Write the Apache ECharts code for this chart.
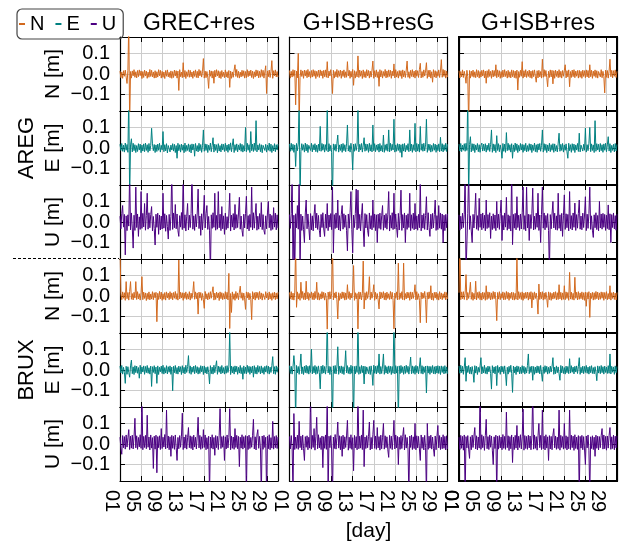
<!DOCTYPE html>
<html>
<head>
<meta charset="utf-8">
<script src="https://cdn.jsdelivr.net/npm/echarts@6/dist/echarts.min.js"></script>
<style>
  html, body { margin: 0; padding: 0; background: #fff; }
  #chart { width: 619px; height: 544px; }
</style>
</head>
<body>
<div id="chart"></div>
<script>
// panel titles, stations, components
const columns = ['GREC+res', 'G+ISB+resG', 'G+ISB+res']
const stations = ['AREG', 'BRUX']
const components = ['N', 'E', 'U']
const compColors = ['#d2691e', '#008080', '#4b0082']

// x axis: day of month, one epoch every 4 h
const dayMin = 1
const dayMax = 31
const dayTicks = [1, 5, 9, 13, 17, 21, 25, 29]
const days = Array.from({ length: 181 }, (_, i) => 1 + i / 6)

// residuals [mm]
const aregGrecN = [14,-18,9,-21,16,-11,19,-15,-46,17,250,-250,12,-20,15,-9,21,-16,11,-19,
  17,-13,20,-8,15,-22,12,-17,19,-10,14,-21,9,-16,22,-12,18,-14,10,-20,
  16,-19,11,-15,21,-9,18,-20,13,-16,10,-22,17,-11,20,-14,8,-18,15,-21,
  12,-17,19,-10,16,-20,14,-80,21,-13,9,-18,55,-15,17,-22,11,-12,20,-16,
  18,-14,10,-21,15,-12,20,-17,13,-19,22,-9,16,-15,11,75,-20,14,-18,12,
  -16,-70,19,-11,15,-20,13,-45,18,-14,21,-10,16,-19,12,-22,17,-13,9,-18,
  20,-15,11,-19,17,-65,14,-21,10,-16,19,45,-12,22,-17,13,-20,9,-14,18,
  -11,16,-20,12,-18,21,-13,15,-9,19,-17,14,-22,11,-15,20,-10,17,-19,13,
  -16,21,-12,18,-20,10,40,-95,15,-13,19,-17,11,65,-21,16,-9,20,-14,12,
  -15]
const aregGrecE = [18,-12,22,-16,14,-20,24,-11,17,-21,250,-250,15,45,-19,23,-13,16,-22,12,
  -17,21,-10,19,-23,14,-15,20,-18,24,-12,16,-21,22,-14,11,96,20,-13,17,
  -22,15,-17,19,-11,23,-20,13,-9,80,-18,16,-14,21,-24,12,17,-19,14,-10,
  21,-15,18,-22,12,-50,23,-13,16,-20,19,-11,15,-23,24,-17,13,-12,20,-18,
  16,-24,20,-10,18,-40,22,-15,12,-19,23,-13,17,-21,11,88,-16,20,-12,18,
  -22,14,-11,24,-18,13,50,-20,19,-12,16,-23,21,-15,12,-19,20,-10,18,-17,
  23,-13,15,-21,19,-11,25,-18,14,45,-22,16,-12,20,-19,15,-10,22,-16,18,
  -20,12,-15,100,-18,23,-11,16,-22,80,-13,19,-17,24,-12,133,-19,15,-10,21,
  -18,16,-23,13,22,-12,18,-20,14,-11,24,-16,19,-22,12,-14,21,-18,16,-10,
  19]
const aregGrecU = [28,-33,41,80,-25,37,-160,30,-42,35,-20,250,-38,44,-29,-127,33,-41,170,-27,
  39,-70,25,-36,148,-31,42,-24,90,-40,31,140,-35,45,-28,36,75,-43,27,-32,
  -112,38,-26,43,-60,34,-39,29,-34,140,-30,40,-45,32,-23,-83,37,-41,26,250,
  -36,44,-28,85,-33,39,-42,-70,31,-25,46,-37,250,-30,35,-44,28,90,-39,33,
  -27,42,250,-35,30,-41,37,-24,44,160,-32,29,-65,40,-38,34,130,-29,41,80,
  -36,27,-43,-250,35,-31,45,-26,140,-40,32,-35,148,-28,38,-42,75,-33,30,-60,
  43,-37,26,-30,39,140,-44,34,-25,41,-39,85,-31,36,-27,44,120,-35,29,-41,
  -70,38,-29,42,125,-34,31,-43,37,-26,170,-38,45,-30,33,90,-40,28,-35,41,
  -24,95,-37,36,-42,-60,30,-33,44,100,-28,39,-41,32,-36,70,-25,43,-38,35,
  -30]

const aregIsbGN = [17,-20,13,-15,21,-11,18,-150,14,-19,100,-250,-16,20,-12,15,-21,19,-10,17,
  -18,22,-14,12,-20,17,-15,21,-11,16,-22,13,-12,19,-17,20,-9,15,-21,18,
  -13,20,-16,60,-19,14,-10,21,-15,-95,18,-20,12,-14,22,-17,16,-11,19,-21,
  15,-12,20,-18,11,-16,60,-10,18,-21,13,-15,22,-55,16,-20,12,-14,88,-17,
  19,-11,15,-22,20,-16,12,-18,21,-10,17,-20,14,-15,19,63,-21,16,-13,20,
  -17,11,-60,21,-14,16,-20,12,-11,22,-19,15,-16,20,-12,18,-21,14,-10,49,
  -19,21,-15,12,-20,17,-11,16,-22,20,-14,15,-17,19,63,-16,11,-21,18,-12,
  21,-15,14,-20,19,-11,16,-17,22,52,-19,12,-16,20,-10,15,55,-21,18,-14,
  19,-20,11,-40,21,-15,16,-19,12,-11,20,-17,15,70,-16,22,-12,18,-20,14,
  -15]
const aregIsbGE = [20,-16,23,-12,18,-21,15,-90,22,-13,19,250,-250,-18,21,-11,16,-20,24,-14,
  18,-22,13,20,-12,23,-19,16,-10,21,-18,14,-21,19,-13,105,-16,22,-11,18,
  -20,16,-12,190,-19,21,-15,13,-22,-250,20,-11,18,-16,23,63,-20,15,-12,19,
  -21,22,-13,16,-18,20,112,-15,12,-20,23,-11,-107,19,-16,21,-12,15,190,-19,
  18,-10,22,-20,14,50,-16,20,-12,18,-21,23,-15,16,-19,112,-13,21,-18,15,
  -11,19,-20,22,-15,12,-18,63,-21,16,-12,20,-16,88,-19,23,-13,18,-10,140,
  -20,15,-16,21,-12,19,-22,16,-45,20,-15,22,-19,13,-11,21,-18,88,-14,19,
  -21,16,-12,120,-19,22,-15,18,-20,105,-11,20,-16,23,-14,15,140,-21,19,-12,
  18,-20,13,-16,22,-11,19,-21,15,-13,20,-18,52,-15,21,-19,16,-12,23,-17,
  18]
const aregIsbGU = [36,-31,42,250,-250,33,-250,40,-28,80,-35,250,-250,38,-41,29,-37,-100,44,107,
  -33,39,-26,-87,41,-38,30,-43,35,85,-29,43,-36,32,-40,-73,37,-27,45,-34,
  -70,38,-30,90,-42,34,-25,41,-37,170,-150,36,-32,44,-28,107,-39,31,-44,37,
  80,-35,40,-26,33,-41,-140,39,-30,45,148,-36,-150,34,-27,42,160,-38,155,-31,
  37,-43,30,90,-34,-120,41,-29,36,-40,-70,44,-33,31,-38,107,-27,39,-42,35,
  -100,38,-31,43,-36,30,80,-40,34,-28,41,-35,37,148,-44,32,-30,45,-37,140,
  -33,39,-26,-75,42,-39,31,155,-41,36,-29,44,-100,33,-36,40,-27,140,-42,35,
  -31,43,-38,90,-34,30,-40,37,-28,200,-43,34,-30,41,-36,32,123,-39,45,-27,
  -70,38,-33,42,-29,36,107,-41,31,-37,80,-30,44,-35,39,-100,33,-42,37,-28,
  40]

const aregIsbN = [16,-19,12,-14,20,-17,13,-11,-45,18,-13,-250,17,-20,14,-12,19,-16,11,-18,
  21,-13,17,-20,12,-15,18,-10,20,-19,14,-45,16,-17,22,-12,13,-21,18,-14,
  17,-11,45,-18,20,-13,16,-21,12,-17,19,-14,21,-12,13,-20,18,-16,11,-19,
  20,-13,17,-18,14,-21,19,-78,12,-16,18,-11,60,-20,16,-14,21,-17,13,-12,
  19,-18,14,-21,17,-13,20,-11,-40,16,-19,18,-14,12,-20,72,-16,21,-12,17,
  -18,-62,13,-17,20,-14,18,-48,16,-21,19,-12,14,-18,21,-16,13,-20,17,-11,
  18,45,-19,16,-14,20,-62,12,-17,19,-13,21,-18,14,-11,17,-20,18,-16,13,
  -21,19,-12,16,-18,20,-14,17,-19,45,-13,18,-21,14,-11,20,-17,16,-20,12,
  18,-14,21,-18,13,-12,-92,19,-16,17,-20,14,72,-13,18,-19,16,-11,20,-17,
  13]
const aregIsbE = [19,-15,22,-18,14,-11,21,-16,23,-12,250,-250,17,55,-19,21,-13,20,-22,15,
  -10,22,-18,16,-21,12,24,-15,19,-13,21,-20,14,-11,23,-17,18,88,-21,20,
  -14,17,-22,60,-12,21,-18,15,-10,-50,22,-16,19,-21,75,-13,23,-11,16,-20,
  21,-50,15,-18,24,-12,20,-22,13,-15,22,-10,18,-21,16,-13,23,-19,12,-16,
  21,-11,19,-22,15,-12,24,-18,16,-21,20,-10,22,-16,13,88,-20,21,-12,18,
  -22,15,-14,23,-18,16,-11,21,-21,20,-15,12,-19,24,72,-16,18,-12,22,-20,
  15,-11,20,-18,-50,23,-13,16,-21,21,-12,19,-22,15,-10,22,-17,72,-19,14,
  21,-15,18,-11,97,-20,16,-13,23,100,-18,20,-12,15,-22,133,-16,21,-10,18,
  -19,22,-13,16,-21,20,-11,23,-18,15,55,-15,21,-22,13,-12,18,-19,22,-14,
  17]
const aregIsbU = [35,-40,28,-33,43,-27,38,250,-250,-250,41,250,-36,30,-44,-100,37,-29,42,140,
  -35,31,-41,115,-26,39,-38,44,-30,33,-43,107,-32,36,-27,45,-80,29,-37,40,
  -31,34,-42,100,-28,38,-36,41,107,-90,32,-39,44,-25,120,-40,35,-33,30,-44,
  250,-110,37,-30,42,-38,123,-27,33,-41,39,-34,45,170,-36,31,-43,170,-29,38,
  -90,36,-32,40,165,-39,28,-35,43,-26,140,-41,34,-100,37,170,-30,44,-38,32,
  -27,41,-42,-250,36,-33,39,100,-29,43,-37,30,-40,140,-31,35,-44,42,-70,33,
  132,-36,40,-28,37,-43,148,-32,31,-39,44,-26,92,-41,36,-30,42,107,-35,29,
  -38,43,-27,34,123,-42,38,-31,41,170,-36,30,-40,-75,35,-28,45,-37,32,-43,
  100,-29,39,-35,42,-26,37,-41,33,-32,83,-38,40,-100,36,-27,44,-34,31,-40,
  38]

const bruxGrecN = [250,12,-18,20,-11,16,-21,70,-13,17,-20,22,70,-16,12,-19,18,-10,70,-17,
  21,-14,11,-20,17,94,-18,19,-12,15,-22,13,-16,20,-19,10,-15,21,-18,16,
  -9,18,-125,13,-17,22,-14,19,-21,11,-16,17,-20,20,-10,14,-18,21,-13,15,
  -19,17,-11,22,-16,12,-20,175,-14,18,-10,16,-21,15,-12,20,-17,11,-15,21,
  -20,14,-12,18,70,-16,20,-13,15,-88,19,-10,17,-21,12,-18,-60,22,-14,11,
  -19,16,-15,21,-11,18,45,-20,14,-17,19,-9,15,-22,20,-13,16,-18,12,-15,
  21,-14,18,-19,110,-158,12,-80,20,-16,11,-21,22,-12,15,-18,19,48,-11,16,
  -21,14,-15,-65,20,-10,18,-19,13,-17,-115,21,-14,16,-20,19,-11,17,-18,22,
  -13,15,-20,11,18,-17,21,-10,14,-19,20,-15,12,-21,16,-12,19,-18,15,-14,
  18]
const bruxGrecE = [19,-14,22,-20,13,-11,-65,18,-21,16,-12,-35,20,48,-18,15,-22,21,-13,19,
  -16,12,-40,23,-19,15,-10,20,-21,17,-13,22,-16,11,-20,19,-80,16,-12,21,
  -18,14,-65,20,-22,13,-9,19,-17,23,-20,12,-15,21,-19,16,-11,20,-21,14,
  -101,18,-13,22,-18,12,-20,19,-10,16,-22,21,-15,13,-19,23,-12,17,70,-16,
  20,-21,14,-11,19,-18,22,-13,16,-20,12,-17,21,-9,18,-22,20,-15,13,-19,
  16,-12,-68,21,-18,14,-20,23,-13,17,45,-21,19,-11,16,-19,22,-15,12,-20,
  18,-16,21,-12,15,190,-22,19,-14,16,-20,20,-10,18,-21,13,-15,22,-18,12,
  -45,20,-17,14,-19,23,-12,18,-21,16,-14,19,-35,21,-18,13,-20,22,-11,17,
  -19,20,-15,12,-21,18,-10,21,-16,19,-20,14,-12,22,65,-18,16,-21,20,-11,
  15]
const bruxGrecU = [33,-22,-50,41,-18,36,-25,44,-15,30,70,-27,39,-20,43,-24,35,125,-19,40,
  -26,32,-14,45,-21,250,-28,37,-17,42,-23,140,-16,34,-29,44,-20,31,-119,38,
  -25,43,-140,36,-18,40,-27,75,-22,33,-15,46,-24,165,-19,39,-28,35,-60,42,
  -21,37,-26,44,-17,-80,32,-23,41,-16,38,150,-27,34,-20,45,-25,30,80,-18,
  40,-22,36,-29,43,-15,33,-24,39,130,-19,42,-26,35,-21,70,-17,44,-28,31,
  -23,38,-250,34,-20,45,-25,32,-55,41,-18,37,-27,43,172,-22,36,-16,40,-80,
  35,-24,44,-19,31,172,-28,39,-21,34,-26,75,-17,42,-23,37,-110,33,-20,45,
  -25,36,-18,41,-250,38,-27,43,-22,32,-16,40,120,-24,35,-29,44,70,-21,37,
  -19,-250,39,-26,42,-17,33,-250,38,-23,45,-28,31,-20,110,-25,36,-18,41,-22,
  34]

const bruxIsbGN = [17,-13,21,-18,14,-20,19,250,-55,20,-15,12,-21,67,-11,22,-17,15,-19,72,
  -14,18,-21,12,-10,20,-17,15,-19,22,-12,67,-18,16,-20,11,-15,21,-11,18,
  -20,14,-13,-161,19,-16,21,-14,11,250,-19,15,-10,20,-18,-112,16,-21,12,-14,
  20,-11,18,-20,15,-17,55,-12,21,-18,14,-10,19,148,-21,16,-14,12,-160,20,
  -15,18,-19,11,170,-63,16,-20,21,-12,15,94,-18,19,-11,14,55,-21,18,-15,
  12,-19,-63,20,-14,17,-10,21,-18,15,-20,19,-12,11,-17,22,-15,18,-21,-160,
  14,-11,20,-19,160,-17,15,-12,21,-18,160,-20,12,-14,19,-10,17,-21,20,-15,
  18,-12,14,55,-19,21,-17,11,-20,-130,18,-14,15,-11,22,-18,-130,17,-15,20,
  -12,50,-19,14,-21,18,-10,19,-17,12,-20,21,-14,15,-18,11,-11,20,-19,17,
  -14]
const bruxIsbGE = [21,-17,18,-20,15,70,19,-250,22,-14,17,-21,20,78,-18,15,-22,19,-13,23,
  -16,18,-20,21,-12,102,-19,17,-14,22,-21,16,-17,20,-13,-92,19,-18,23,-15,
  17,-20,21,250,-14,18,-22,16,-12,-250,20,-17,22,-19,15,113,-21,18,-13,20,
  -18,16,-22,19,94,-14,21,-17,13,-20,23,-16,18,-250,17,-19,20,-12,250,-21,
  16,-17,22,-13,19,-68,18,-20,15,21,-18,17,-22,20,-14,-75,23,-16,18,-19,
  21,-13,78,-20,17,-17,19,78,-21,22,-15,16,-19,20,-12,18,-22,17,-16,250,
  -19,21,-15,17,-250,20,-18,22,-13,16,-21,19,-17,23,-12,18,-20,16,63,-18,
  20,-16,17,-21,22,-13,18,-19,15,60,-17,21,-20,16,-12,19,-112,20,-15,18,
  -21,17,-13,22,-18,16,-20,19,-15,21,-17,18,-22,20,-12,17,-19,21,-16,15,
  -18]
const bruxIsbGU = [37,-24,41,-19,-250,148,-27,34,-21,43,-26,110,-18,38,-29,44,-22,-80,36,-16,
  40,-28,33,-20,250,-25,42,-17,75,-30,35,130,-23,45,-19,31,-27,39,-115,36,
  -21,44,-26,250,-250,38,-18,41,-29,-250,34,-22,46,-25,32,107,-20,40,-28,37,
  -60,43,-24,35,-17,39,115,-30,33,-21,45,-26,31,-130,42,-19,36,-28,250,-23,
  38,-20,44,-27,165,-110,34,-22,41,-18,37,107,-29,32,-24,45,115,-21,39,-26,
  80,-19,36,-30,43,-23,33,100,-25,40,-18,35,-28,-65,42,-21,38,-27,31,115,
  -24,44,-19,37,-100,33,-26,41,-22,36,80,-29,45,-20,32,-25,-250,39,-17,43,
  -27,35,-22,100,-28,40,-19,37,-24,-80,44,-21,33,-29,42,-18,-250,100,-26,38,
  -20,43,-25,34,-22,-60,39,-28,36,90,-19,41,-27,33,-23,45,-21,37,-29,40,
  -24]

const bruxIsbN = [16,250,-18,20,-13,21,-17,14,104,-20,17,-12,19,67,-16,18,-21,13,-15,72,
  -19,17,-11,21,-18,14,-20,19,-13,16,-21,50,-17,20,-12,18,-19,15,-16,22,
  -13,19,-20,-120,17,-15,21,-18,12,-11,20,-19,16,-17,22,-13,18,-21,14,-12,
  19,-18,17,-20,13,-16,190,-19,21,-12,16,-17,20,-21,15,-13,18,-11,19,-20,
  17,-15,21,-58,16,-18,20,-12,14,-19,-88,58,-17,19,-13,21,-20,15,-16,18,
  -11,-55,20,-18,17,-21,13,-15,19,-12,21,-19,16,-17,55,-14,18,-20,15,-16,
  50,-18,20,-12,17,-21,115,-15,19,-17,13,-20,91,-11,18,-19,21,-16,15,-13,
  20,-18,16,-21,19,-50,17,-15,21,-104,14,-12,18,-20,16,-17,22,-13,19,-19,
  15,-16,20,-11,18,-21,17,-13,21,-18,12,-15,50,-20,16,-12,19,-17,14,-19,
  17]
const bruxIsbE = [20,-16,23,-13,18,-21,15,60,-55,19,-12,22,-18,14,-20,17,-10,-60,21,-15,
  18,-22,13,-11,20,60,-19,16,-14,23,-17,12,-20,19,-9,17,-18,-93,21,-14,
  15,-19,18,-76,22,-12,14,-21,19,-10,17,-18,20,-15,-76,13,-20,18,-11,23,
  -16,-109,19,-14,15,-22,20,-10,17,-19,14,-18,21,-13,18,-20,12,-15,22,78,
  -18,16,-12,19,-50,17,-21,14,-15,20,-13,18,-19,22,-14,-55,15,-17,21,-11,
  18,-20,13,-16,19,-10,17,60,-21,14,-18,20,-13,15,-19,-50,22,-14,18,-17,
  12,-20,19,-13,17,-18,55,-15,21,-11,14,-19,18,-10,20,-17,16,60,-21,13,
  -14,19,-18,17,-12,22,-16,14,-20,18,-13,21,-17,12,-19,16,-10,-52,20,-15,
  17,-18,22,-13,16,-20,19,-12,14,-17,21,-16,78,-19,18,-11,15,-21,20,-13,
  17]
const bruxIsbU = [33,-27,42,-21,37,-30,44,-250,36,-19,41,-25,-70,35,-28,43,-17,38,80,-24,
  40,-29,34,-20,250,-26,45,-18,37,-31,42,120,-23,36,-27,44,-16,39,-30,-100,
  35,-22,43,-250,38,-25,41,-19,34,-28,46,-21,37,-26,155,-18,40,-32,36,-23,
  44,-90,33,-27,42,-20,90,-29,38,-17,45,-24,35,170,-30,41,-22,37,-26,43,
  -19,39,-28,34,250,-25,44,-21,36,-30,40,100,-18,42,-27,165,-23,38,-29,45,
  -20,35,-80,41,-24,37,-28,44,75,-19,39,-26,33,-22,165,-30,42,-17,36,-25,
  100,-21,40,-29,35,-23,165,-27,43,-18,38,-31,45,-22,34,-26,41,-250,37,-20,
  42,-28,36,-24,-100,39,-19,44,-30,-250,35,-22,40,-27,33,-60,43,-21,38,-29,
  36,-18,41,75,-25,44,-23,37,-30,39,-20,42,80,-26,35,-22,43,-28,38,-19,
  40]

const residuals = {
  AREG: [[aregGrecN, aregGrecE, aregGrecU], [aregIsbGN, aregIsbGE, aregIsbGU], [aregIsbN, aregIsbE, aregIsbU]],
  BRUX: [[bruxGrecN, bruxGrecE, bruxGrecU], [bruxIsbGN, bruxIsbGE, bruxIsbGU], [bruxIsbN, bruxIsbE, bruxIsbU]]
}

const FONT = "'Liberation Sans', Arial, Helvetica, sans-serif"
const colLeft = [120, 289.5, 459]
const colWidth = 158
const rowTop = 37
const rowH = 74
const yMin = -0.18
const yMax = 0.18
const xLabelMargin = 9

const pad2 = v => { const d = Math.round(v); return (d < 10 ? '0' : '') + d }
const yFmt = v => Math.abs(v) < 1e-9 ? '0.0' : (v < 0 ? '\u2212' : '') + Math.abs(v).toFixed(1)
const xLabelStyle = { fontSize: 20, fontFamily: FONT, color: '#000', lineHeight: 17 }

const grid = []
const xAxis = []
const yAxis = []
const series = []

stations.forEach((st, s) => {
  components.forEach((comp, c) => {
    const r = s * 3 + c
    columns.forEach((col, k) => {
      const g = grid.length
      const isBottom = r === 5
      const isLeft = k === 0
      // the last column has a heavier frame, drawn by the grid itself
      grid.push({
        left: colLeft[k], top: rowTop + rowH * r, width: colWidth, height: rowH,
        show: k === 2, borderColor: '#000', borderWidth: 2, backgroundColor: 'transparent',
        containLabel: false, outerBoundsMode: 'none'
      })
      const lineCfg = { show: true, onZero: false, lineStyle: { color: '#000', width: 1.2 } }
      const tickCfg = { show: true, inside: true, length: 5, lineStyle: { color: '#000', width: 1 } }
      // bottom x axis (grid lines + labels)
      xAxis.push({
        type: 'value', gridIndex: g, position: 'bottom', min: dayMin, max: dayMax, interval: 4,
        axisLine: lineCfg, axisTick: tickCfg,
        splitLine: { show: true, lineStyle: { color: '#cccccc', width: 1 } },
        axisLabel: isBottom ? {
          show: true, rotate: -90, margin: xLabelMargin, verticalAlign: 'top',
          customValues: dayTicks, hideOverlap: false, showMinLabel: true,
          ...xLabelStyle, formatter: v => pad2(v)
        } : { show: false },
        name: isBottom && k === 1 ? '[day]' : '',
        nameLocation: 'middle', nameGap: 40,
        nameTextStyle: { fontSize: 21, fontFamily: FONT, color: '#000' }
      })
      // top x axis, ticks only
      xAxis.push({
        type: 'value', gridIndex: g, position: 'top', min: dayMin, max: dayMax, interval: 4,
        axisLine: lineCfg, axisTick: tickCfg, splitLine: { show: false }, axisLabel: { show: false }
      })
      // left y axis
      yAxis.push({
        type: 'value', gridIndex: g, position: 'left', min: yMin, max: yMax,
        splitNumber: 3, minInterval: 0.1, maxInterval: 0.1,
        axisLine: lineCfg, axisTick: tickCfg,
        splitLine: { show: true, lineStyle: { color: '#cccccc', width: 1 } },
        axisLabel: isLeft ? {
          show: true, margin: 10, showMinLabel: false, showMaxLabel: false,
          fontSize: 20, fontFamily: FONT, color: '#000', formatter: yFmt
        } : { show: false },
        name: isLeft ? comp + ' [m]' : '',
        nameLocation: 'middle', nameRotate: 90, nameGap: 56,
        nameTextStyle: { fontSize: 21, fontFamily: FONT, color: '#000' }
      })
      // right y axis, ticks only
      yAxis.push({
        type: 'value', gridIndex: g, position: 'right', min: yMin, max: yMax,
        splitNumber: 3, minInterval: 0.1, maxInterval: 0.1,
        axisLine: lineCfg, axisTick: tickCfg, splitLine: { show: false }, axisLabel: { show: false }
      })
      const vals = residuals[st][k][c]
      series.push({
        type: 'line', name: comp, xAxisIndex: 2 * g, yAxisIndex: 2 * g,
        data: vals.map((v, i) => [days[i], v / 1000]),
        symbol: 'none', color: compColors[c],
        lineStyle: { color: compColors[c], width: 1 },
        clip: true, silent: true
      })
    })
  })
})

const graphic = []
columns.forEach((t, k) => {
  graphic.push({
    type: 'text', x: colLeft[k] + colWidth / 2, y: 24,
    style: { text: t, fontSize: 23, fontFamily: FONT, fill: '#000',
      align: 'center', verticalAlign: 'middle', textAlign: 'center', textVerticalAlign: 'middle' }
  })
})
stations.forEach((st, s) => {
  graphic.push({
    type: 'text', x: 27, y: rowTop + rowH * (s * 3 + 1.5), rotation: Math.PI / 2,
    style: { text: st, fontSize: 22, fontFamily: FONT, fill: '#000',
      align: 'center', verticalAlign: 'middle', textAlign: 'center', textVerticalAlign: 'middle' }
  })
})
// dashed line between the two stations
graphic.push({
  type: 'line', shape: { x1: 13, y1: 258.5, x2: 119, y2: 258.5 },
  style: { stroke: '#000', lineWidth: 1, lineDash: [3, 2] }
})

const chart = echarts.init(document.getElementById('chart'))
chart.setOption({
  animation: false,
  backgroundColor: '#fff',
  legend: {
    data: components, left: 17, top: 9, orient: 'horizontal',
    icon: 'rect', itemWidth: 6, itemHeight: 2, itemGap: 11,
    padding: [5, 7, 5, 2], borderColor: '#444', borderWidth: 1.2, borderRadius: 5,
    selectedMode: false,
    textStyle: { fontSize: 20, fontFamily: FONT, color: '#000' }
  },
  grid, xAxis, yAxis, series, graphic
})

// the first day label of the last column gets dropped by the axis layout,
// so place it at the same spot through the axis scale
const lastGrid = grid.length - 1
const p = chart.convertToPixel({ xAxisIndex: 2 * lastGrid, yAxisIndex: 2 * lastGrid }, [dayTicks[0], yMin])
if (p) {
  graphic.push({
    type: 'text', x: p[0], y: p[1] + xLabelMargin, rotation: -Math.PI / 2,
    style: { text: pad2(dayTicks[0]), fontSize: 20, fontFamily: FONT, fill: '#000', lineHeight: 17,
      align: 'left', verticalAlign: 'top', textAlign: 'left', textVerticalAlign: 'top' }
  })
  chart.setOption({ graphic })
}
</script>
</body>
</html>
